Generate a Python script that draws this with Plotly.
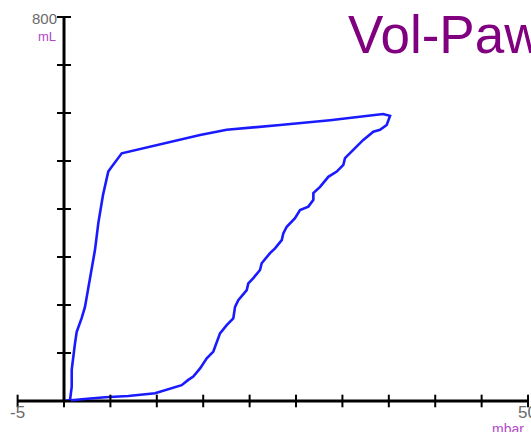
import plotly.graph_objects as go

# Pressure (mbar) and volume (mL) of the loop
paw = [0.0, 0.83, 1.91, 4.42, 6.93, 9.81, 12.68, 13.39, 13.93, 14.66, 15.38, 16.09, 16.45,
       16.81, 17.53, 18.24, 18.43, 18.78, 19.69, 19.86, 20.40, 21.12, 21.30, 22.20, 22.74,
       23.46, 23.63, 24.00, 24.89, 25.43, 26.33, 26.87, 26.87, 27.59, 28.48, 29.39, 30.10,
       30.28, 31.17, 32.25, 33.33, 34.05, 34.77, 35.13, 34.38,
       32.62, 28.66, 23.28, 17.53, 14.66, 12.5, 9.81, 6.76, 6.22, 5.14, 4.77, 4.20, 3.99,
       3.70, 3.34, 2.98, 2.62, 2.26, 1.91, 1.54, 1.37, 1.19, 1.00, 0.83, 0.83, 0.65, 0.0]
vol = [0, 2, 3.5, 7.7, 10.4, 16, 33, 44, 51, 68, 89, 103, 120,
       141, 158, 172, 196, 210, 231, 245, 256, 273, 287, 308, 318,
       335, 349, 363, 381, 398, 405, 419, 433, 446, 467, 478, 492,
       506, 523, 544, 561, 565, 575, 594, 598,
       594, 585, 575, 565, 554, 544, 533, 519, 516, 488, 478, 429, 408,
       371, 315, 273, 238, 196, 173, 155, 144, 121, 85, 65, 30, 2, 0]

x_min, x_max, x_step = -5, 50, 5
y_min, y_max, y_step = 0, 800, 100
x_tick_labels = ["-5", "50"]
y_tick_labels = ["800"]
x_unit = "mbar"
y_unit = "mL"
title = "Vol-Paw"

x_ticks = list(range(x_min, x_max + 1, x_step))
y_ticks = list(range(y_min, y_max + 1, y_step))

fig = go.Figure()

# loop
fig.add_trace(go.Scatter(x=paw, y=vol, mode="lines",
                         line=dict(color="#1a1aff", width=2.6), hoverinfo="skip"))
# ticks
fig.add_trace(go.Scatter(x=x_ticks, y=[0] * len(x_ticks), mode="markers",
                         marker=dict(symbol="line-ns", size=9, line=dict(color="black", width=2)),
                         hoverinfo="skip"))
fig.add_trace(go.Scatter(x=[0] * len(y_ticks), y=y_ticks, mode="markers",
                         marker=dict(symbol="line-ew", size=10, line=dict(color="black", width=2)),
                         hoverinfo="skip"))

shapes = [
    dict(type="line", xref="x", yref="y", x0=x_min, x1=x_max, y0=0, y1=0,
         line=dict(color="black", width=3), layer="below"),
    dict(type="line", xref="x", yref="y", x0=0, x1=0, y0=y_min, y1=y_max,
         line=dict(color="black", width=3), layer="below"),
]

gray = "#6a6a6a"
purple = "#b048c8"
font = "Liberation Sans, Arial, sans-serif"
W, H = 531, 432
annotations = [
    dict(x=0, y=y_max, xref="x", yref="y", text=y_tick_labels[0], showarrow=False,
         xanchor="right", yanchor="middle", xshift=-5, yshift=-2,
         font=dict(family=font, size=15, color=gray)),
    dict(x=0, y=y_max, xref="x", yref="y", text=y_unit, showarrow=False,
         xanchor="right", yanchor="middle", xshift=-6, yshift=-20,
         font=dict(family=font, size=13, color=purple)),
    dict(x=x_min, y=0, xref="x", yref="y", text=x_tick_labels[0], showarrow=False,
         xanchor="center", yanchor="top", xshift=0, yshift=0,
         font=dict(family=font, size=17, color=gray)),
    dict(x=x_max, y=0, xref="x", yref="y", text=x_tick_labels[1], showarrow=False,
         xanchor="center", yanchor="top", xshift=-1, yshift=0,
         font=dict(family=font, size=17, color=gray)),
    dict(x=x_max, y=0, xref="x", yref="y", text=x_unit, showarrow=False,
         xanchor="left", yanchor="top", xshift=-38, yshift=-18,
         font=dict(family=font, size=14, color=purple)),
    dict(x=346 / W, y=1 - 34 / H, xref="paper", yref="paper", text=title,
         showarrow=False, xanchor="left", yanchor="middle",
         font=dict(family=font, size=53, color="#800080")),
]

fig.update_layout(
    width=W, height=H,
    margin=dict(l=0, r=0, t=0, b=0),
    paper_bgcolor="white", plot_bgcolor="white",
    showlegend=False,
    xaxis=dict(range=[-6.897, 50.32], visible=False, fixedrange=True),
    yaxis=dict(range=[-64.6, 835.4], visible=False, fixedrange=True),
    shapes=shapes, annotations=annotations,
)

fig.write_html(
    "out.html",
    config={"displayModeBar": False},
    post_script="document.body.style.margin='0';document.body.style.overflow='hidden';",
)
